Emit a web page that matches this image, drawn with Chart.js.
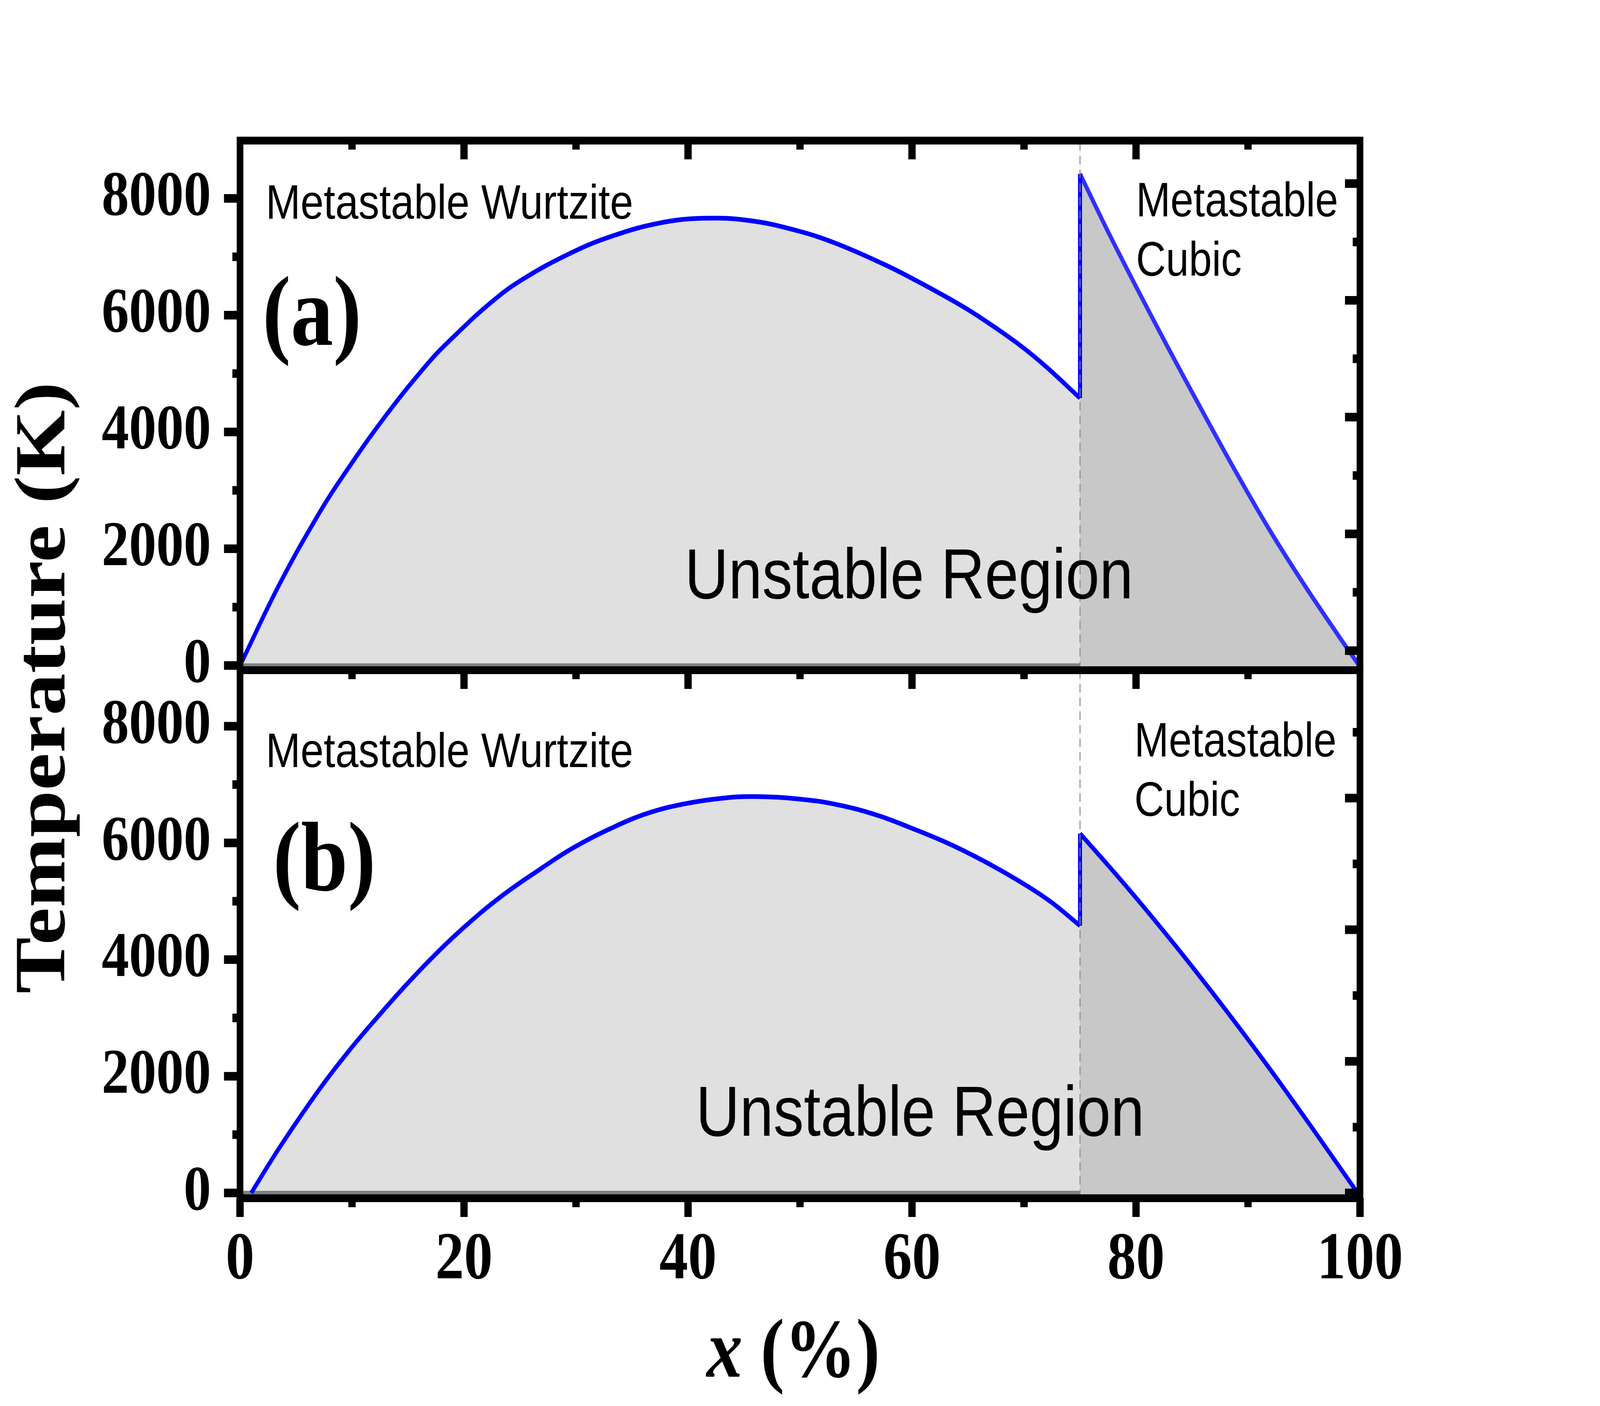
<!DOCTYPE html>
<html lang="en">
<head>
<meta charset="UTF-8">
<title>Temperature vs x</title>
<script src="https://cdn.jsdelivr.net/npm/chart.js"></script>
<style>
  html, body { margin: 0; padding: 0; background: #fff; overflow: hidden; }
  .wrap { position: relative; width: 100vw; height: 100vh; }
  .wrap canvas { position: absolute; left: 0; top: 0; width: 100%; height: 100%; }
</style>
</head>
<body>
<div class="wrap">
  <canvas id="panelA" width="4800" height="3600" style="width:100%;height:100%"></canvas>
  <canvas id="panelB" width="4800" height="3600" style="width:100%;height:100%"></canvas>
</div>
<script>
// ---- data ----
// panel (a)
const xWurtziteA = [0, 3.6, 7.1, 9.1, 12.9, 16.8, 18.8, 22.3, 25.2, 29.7, 33.3, 37.5, 41.4, 45.5, 49.7, 53.2, 57.4, 60, 63.9, 66.1, 69.4, 71.9, 75];
const tWurtziteA = [0, 1420, 2620, 3220, 4250, 5180, 5580, 6200, 6610, 7080, 7360, 7580, 7660, 7620, 7450, 7230, 6880, 6630, 6220, 5960, 5520, 5130, 4580];
const xCubicA = [75, 77.4, 80, 82.9, 85.8, 88.7, 91.9, 95.2, 98.4, 100];
const tCubicA = [8420, 7470, 6490, 5430, 4400, 3390, 2330, 1330, 420, -20];

// panel (b)
const xWurtziteB = [1, 3.6, 7.1, 9.7, 12.3, 14.9, 17.5, 20.1, 23.3, 26.8, 29.7, 33.3, 36.5, 39.7, 43, 45.9, 50, 53.2, 56.8, 60, 62.9, 65.5, 68.1, 70.7, 72.6, 75];
const tWurtziteB = [0, 800, 1780, 2430, 3020, 3580, 4100, 4570, 5080, 5550, 5910, 6265, 6515, 6670, 6765, 6795, 6750, 6660, 6480, 6250, 6020, 5780, 5510, 5210, 4960, 4580];
const xCubicB = [75, 77.4, 80, 82.9, 85.5, 88.1, 90.3, 92.9, 95.8, 99.5, 100];
const tCubicB = [6160, 5640, 5060, 4385, 3760, 3115, 2555, 1875, 1095, 80, -50];

const phaseBoundary = 75;           // x where wurtzite meets cubic
const yRangeA = [-80, 8990];
const yRangeB = [-90, 8960];
const xTicks = [0, 20, 40, 60, 80, 100];
const xMinorTicks = [10, 30, 50, 70, 90];
const yTicks = [0, 2000, 4000, 6000, 8000];
const yMinorTicks = [1000, 3000, 5000, 7000];
// right-hand axis ticks (unlabelled) as they sit in the picture
const rightTicksA = [254, 1254, 2254, 3254, 4254, 5254, 6254, 7254, 8254];
const rightTicksB = [0, 1128, 2256, 3384, 4512, 5640, 6768, 7896];

// ---- look ----
const SANS = '"Liberation Sans", Arial, sans-serif';
const SERIF = '"Liberation Serif", "Times New Roman", serif';
const FRAME_W = 20, TICK_W = 22, LINE_W = 12;
const MAJOR_LEN = 48, MINOR_LEN = 23, RIGHT_MAJOR = 45, RIGHT_MINOR = 22;

const pts = (xs, ys) => xs.map((x, i) => ({ x: x, y: ys[i] }));

function datasets(xw, tw, xc, tc, yr, cubicColor) {
  return [
    { // dashed phase boundary
      data: [{ x: phaseBoundary, y: yr[0] }, { x: phaseBoundary, y: yr[1] }],
      borderColor: '#8a8a8a', borderWidth: 3, borderDash: [22, 13],
      pointRadius: 0, fill: false, order: 1
    },
    { // jump at the boundary
      data: [{ x: phaseBoundary, y: tw[tw.length - 1] }, { x: phaseBoundary, y: tc[0] }],
      borderColor: '#0000ff', borderWidth: LINE_W, pointRadius: 0, fill: false, order: 2
    },
    { // wurtzite branch
      data: pts(xw, tw), borderColor: '#0000ff', borderWidth: LINE_W, pointRadius: 0,
      tension: 0.4, fill: 'start', backgroundColor: '#e0e0e0', order: 3
    },
    { // cubic branch
      data: pts(xc, tc), borderColor: cubicColor, borderWidth: LINE_W, pointRadius: 0,
      tension: 0.3, fill: 'start', backgroundColor: '#c8c8c8', order: 3
    },
    { // grey base line under the wurtzite part
      data: [{ x: 0, y: 0 }, { x: phaseBoundary, y: 0 }],
      borderColor: '#808080', borderWidth: 11, pointRadius: 0, fill: false, order: 4
    }
  ];
}

function framePlugin(rightTicks, bottomLabels) {
  return {
    id: 'frame',
    afterDraw(chart) {
      const { ctx, chartArea: a, scales: { x, y } } = chart;
      ctx.save();
      ctx.strokeStyle = '#000';
      ctx.lineCap = 'butt';
      const tick = (x0, y0, x1, y1) => {
        ctx.lineWidth = TICK_W;
        ctx.beginPath(); ctx.moveTo(x0, y0); ctx.lineTo(x1, y1); ctx.stroke();
      };
      // left axis, outward
      yTicks.forEach(v => { const p = y.getPixelForValue(v); tick(a.left, p, a.left - MAJOR_LEN, p); });
      yMinorTicks.forEach(v => { const p = y.getPixelForValue(v); tick(a.left, p, a.left - MINOR_LEN, p); });
      // right axis, inward
      rightTicks.forEach((v, i) => {
        const p = y.getPixelForValue(v);
        tick(a.right, p, a.right - (i % 2 === 0 ? RIGHT_MAJOR : RIGHT_MINOR), p);
      });
      // top axis, inward
      xTicks.slice(1, -1).forEach(v => { const p = x.getPixelForValue(v); tick(p, a.top, p, a.top + MAJOR_LEN); });
      xMinorTicks.forEach(v => { const p = x.getPixelForValue(v); tick(p, a.top, p, a.top + MINOR_LEN); });
      // bottom axis, outward (lower panel only)
      if (bottomLabels) {
        xTicks.forEach(v => { const p = x.getPixelForValue(v); tick(p, a.bottom, p, a.bottom + MAJOR_LEN); });
        xMinorTicks.forEach(v => { const p = x.getPixelForValue(v); tick(p, a.bottom, p, a.bottom + MINOR_LEN); });
      }
      ctx.lineWidth = FRAME_W;
      ctx.lineJoin = 'miter';
      ctx.strokeRect(a.left, a.top, a.right - a.left, a.bottom - a.top);
      ctx.restore();
    }
  };
}

function notesPlugin(notes) {
  return {
    id: 'notes',
    afterDatasetsDraw(chart) {
      const { ctx, scales: { x, y } } = chart;
      ctx.save();
      ctx.fillStyle = '#000';
      ctx.textAlign = 'left';
      ctx.textBaseline = 'alphabetic';
      notes.forEach(n => {
        ctx.font = n.font;
        ctx.fillText(n.text, x.getPixelForValue(n.x), y.getPixelForValue(n.y));
      });
      ctx.restore();
    }
  };
}

const axisTitles = {
  id: 'axisTitles',
  afterDraw(chart) {
    const ctx = chart.ctx;
    ctx.save();
    ctx.fillStyle = '#000';
    ctx.textBaseline = 'alphabetic';
    // x (%)
    ctx.textAlign = 'left';
    ctx.font = 'italic bold 215px ' + SERIF;
    const wX = ctx.measureText('x').width;
    ctx.font = 'bold 215px ' + SERIF;
    const wRest = ctx.measureText(' (%)').width;
    const x0 = 2380 - (wX + wRest) / 2;
    ctx.font = 'italic bold 215px ' + SERIF;
    ctx.fillText('x', x0, 3525);
    ctx.font = 'bold 215px ' + SERIF;
    ctx.fillText(' (%)', x0 + wX, 3525);
    // Temperature (K)
    ctx.translate(193, 1761);
    ctx.rotate(-Math.PI / 2);
    ctx.textAlign = 'center';
    ctx.font = 'bold 216px ' + SERIF;
    ctx.fillText('Temperature (K)', 0, 0);
    ctx.restore();
  }
};

function yScale(range) {
  return {
    type: 'linear', min: range[0], max: range[1],
    afterFit(s) { s.width = 720; },
    afterBuildTicks(s) { s.ticks = yTicks.map(v => ({ value: v })); },
    ticks: { font: { family: SERIF, weight: 'bold', size: 164 }, color: '#000', padding: 87, callback: v => String(v) },
    grid: { display: false, drawTicks: false },
    border: { display: false }
  };
}

const common = {
  responsive: false, animation: false, devicePixelRatio: 1, events: [],
  plugins: { legend: { display: false }, tooltip: { enabled: false }, filler: { drawTime: 'beforeDatasetsDraw' } }
};

const notesA = [
  { text: 'Metastable Wurtzite', x: 2.3, y: 7650, font: '125px ' + SANS },
  { text: '(a)', x: 2.0, y: 5490, font: 'bold 255px ' + SERIF },
  { text: 'Unstable Region', x: 39.7, y: 1150, font: '182px ' + SANS },
  { text: 'Metastable', x: 80.0, y: 7690, font: '124px ' + SANS },
  { text: 'Cubic', x: 80.0, y: 6675, font: '124px ' + SANS }
];
const notesB = [
  { text: 'Metastable Wurtzite', x: 2.3, y: 7300, font: '125px ' + SANS },
  { text: '(b)', x: 2.95, y: 5190, font: 'bold 252px ' + SERIF },
  { text: 'Unstable Region', x: 40.7, y: 980, font: '182px ' + SANS },
  { text: 'Metastable', x: 79.85, y: 7480, font: '124px ' + SANS },
  { text: 'Cubic', x: 79.85, y: 6460, font: '124px ' + SANS }
];

new Chart(document.getElementById('panelA'), {
  type: 'line',
  data: { datasets: datasets(xWurtziteA, tWurtziteA, xCubicA, tCubicA, yRangeA, '#3030ff') },
  options: Object.assign({}, common, {
    layout: { padding: { left: 0, right: 720, top: 360, bottom: 1884 } },
    scales: {
      x: { type: 'linear', min: 0, max: 100, display: false },
      y: yScale(yRangeA)
    }
  }),
  plugins: [notesPlugin(notesA), framePlugin(rightTicksA, false)]
});

new Chart(document.getElementById('panelB'), {
  type: 'line',
  data: { datasets: datasets(xWurtziteB, tWurtziteB, xCubicB, tCubicB, yRangeB, '#0000ff') },
  options: Object.assign({}, common, {
    layout: { padding: { left: 0, right: 720, top: 1716, bottom: 182 } },
    scales: {
      x: {
        type: 'linear', min: 0, max: 100,
        afterFit(s) { s.height = 350; },
        afterBuildTicks(s) { s.ticks = xTicks.map(v => ({ value: v })); },
        ticks: { font: { family: SERIF, weight: 'bold', size: 172 }, color: '#000', padding: 57, maxRotation: 0, autoSkip: false, callback: v => String(v) },
        grid: { display: false, drawTicks: false },
        border: { display: false }
      },
      y: yScale(yRangeB)
    }
  }),
  plugins: [notesPlugin(notesB), framePlugin(rightTicksB, true), axisTitles]
});
</script>
</body>
</html>
